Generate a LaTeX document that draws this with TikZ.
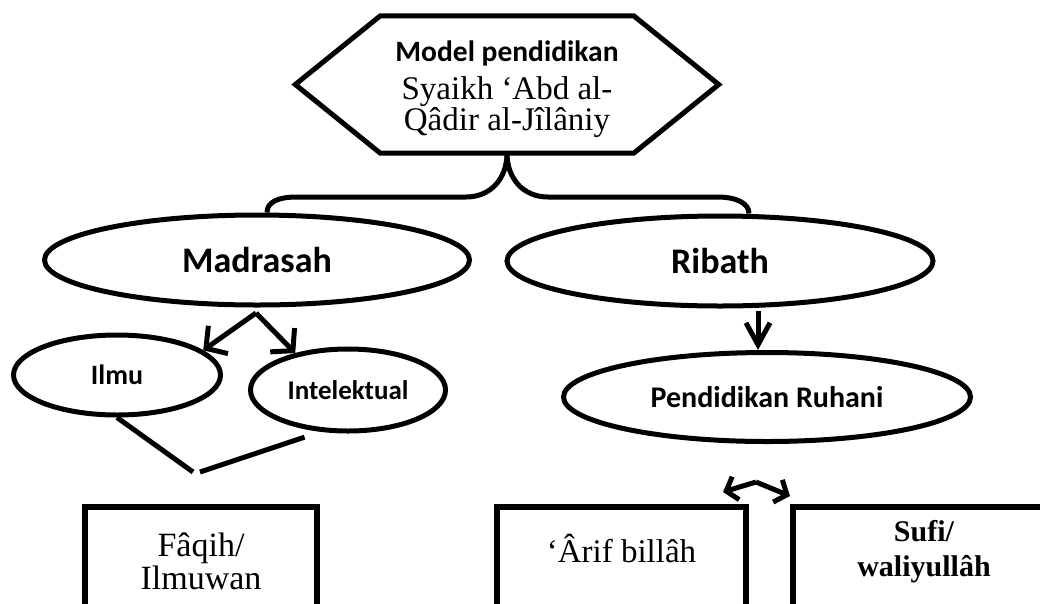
\documentclass[tikz,border=0pt]{standalone}
\usepackage{fontspec}
\setmainfont{Liberation Serif}
\newfontfamily\calibri{Carlito}
\usetikzlibrary{positioning,arrows.meta,shapes.geometric}
\tikzset{
ovalnode/.style = {ellipse, draw, line width=5pt, inner sep=0pt, minimum width=#1},
ovalnode/.default = 200pt,
boxnode/.style = {rectangle, draw, line width=6pt, inner sep=0pt, minimum height=100pt, minimum width=#1},
boxnode/.default = 232pt
}
\tikzset{link/.style={line width=5pt}}
\tikzset{arr/.style={line width=5pt, -{Straight Barb[length=15pt,width=34pt]}}}
\newcommand{\sansb}[1]{\calibri\bfseries\fontsize{#1}{#1}\selectfont}

\begin{document}
\begin{tikzpicture}[x=1pt,y=-1pt]
\useasboundingbox (0,0) rectangle (1040,603);
% top
\node [minimum width=253pt, minimum height=137pt, inner sep=0pt, align=center,
       font=\fontsize{33}{29}\selectfont] (model) at (507,84.5)
      {{\sansb{29.5}\rule{0pt}{31pt}Model pendidikan}\\[9pt]Syaikh ‘Abd al-\\Qâdir al-Jîlâniy};
\draw [link] ([xshift=-85pt]model.west) -- (model.north west) -- (model.north east)
  -- ([xshift=85pt]model.east) -- (model.south east) -- (model.south west) -- cycle;

\node [ovalnode=425pt, minimum height=90pt] (madrasah) at (257,260) {\sansb{36}Madrasah};
\node [ovalnode=426pt, minimum height=90pt] (ribath) at (720,261) {\sansb{36}Ribath};

\draw [link] (model.south) .. controls +(0,25) and +(25,0) .. (466,197) -- (297,197)
  .. controls +(-20,0) and +(0,-10) .. ([xshift=10pt]madrasah.north);
\draw [link] (model.south) .. controls +(0,25) and +(-25,0) .. (548,197) -- (717,197)
  .. controls +(20,0) and +(0,-10) .. ([xshift=29pt]ribath.north);

% madrasah
\node [ovalnode=207pt, minimum height=80pt] (ilmu) at (117,375) {\sansb{28}Ilmu};
\node [ovalnode=195pt, minimum height=82pt] (intelektual) at (348,390) {\sansb{27}Intelektual};
\coordinate (msplit) at (256,313);
\draw [arr] (msplit) -- (ilmu.16);
\draw [arr] (msplit) -- (intelektual.145);
\coordinate (gapL) at (193,472);
\coordinate (gapR) at (200,472);
\draw [link] (ilmu.south) -- (gapL);
\draw [link] (gapR) -- ([yshift=-8pt]intelektual.222);
\node [boxnode, minimum height=108pt, font=\fontsize{34}{33}\selectfont, align=center] (faqih) at (201,561)
      {Fâqih/\\Ilmuwan};

% ribath
\node [ovalnode=407pt, minimum height=89pt] (ruhani) at (767,397) {\sansb{30}Pendidikan Ruhani};
\coordinate (rtop) at (758,311);
\draw [line width=5pt, -{Straight Barb[length=22pt,width=24pt]}] (rtop) -- (rtop |- ruhani.north);
\node [boxnode=249pt, font=\fontsize{33}{36}\selectfont, text depth=18pt] (arif) at (621.5,557) {‘Ârif billâh};
\node [boxnode=262pt, font=\bfseries\fontsize{30}{35}\selectfont, align=center, text depth=17pt] (sufi) at (924,557)
      {Sufi/\\waliyullâh};
\coordinate (rsplit) at (756,482);
\draw [arr, -{Straight Barb[length=10pt,width=24pt]}] (rsplit) -- ([xshift=-26pt,yshift=12pt]arif.north east);
\draw [arr, -{Straight Barb[length=10pt,width=24pt]}] (rsplit) -- ([yshift=8pt]sufi.north west);
\end{tikzpicture}
\end{document}
